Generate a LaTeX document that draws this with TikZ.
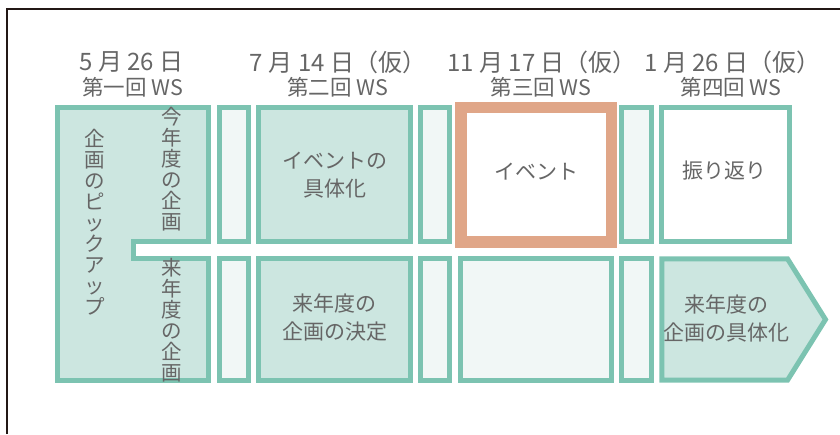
\documentclass[tikz,border=0pt]{standalone}
\usepackage{fontspec}
\setmainfont{Noto Sans CJK JP}
\definecolor{gstroke}{HTML}{7CC3B1}
\definecolor{gfill}{HTML}{CCE6E0}
\definecolor{pfill}{HTML}{F1F7F6}
\definecolor{ostroke}{HTML}{E0A688}
\definecolor{txt}{HTML}{666666}
\definecolor{frame}{HTML}{231815}
\tikzset{
  gbox/.style={draw=gstroke, line width=5pt, line join=miter},
  obox/.style={draw=ostroke, line width=11.5pt, fill=white},
  hdr/.style={text=txt, align=center, font=\fontsize{24}{27}\selectfont, inner sep=0pt},
  sub/.style={text=txt, align=center, font=\fontsize{21.5}{25}\selectfont, inner sep=0pt},
  lbl/.style={text=txt, align=center, font=\fontsize{21}{28}\selectfont, inner sep=0pt},
  vlbl/.style={text=txt, align=center, font=\fontsize{20.5}{21}\selectfont, inner sep=0pt},
}
\begin{document}
\begin{tikzpicture}[x=1pt,y=-1pt]
\useasboundingbox (0,0) rectangle (840,434);
% frame
\draw[frame, line width=2pt] (6.7,434) -- (6.7,9.3) -- (840,9.3);
% column 1 L-shape
\draw[gbox, fill=gfill] (57.5,107.5) -- (208.2,107.5) -- (208.2,241.5) -- (133.3,241.5) -- (133.3,258.8) -- (208.2,258.8) -- (208.2,380.2) -- (57.5,380.2) -- cycle;
% narrow 2
\draw[gbox, fill=pfill] (219.2,107.5) rectangle (248.2,241.5);
\draw[gbox, fill=pfill] (219.2,258.8) rectangle (248.2,380.2);
% box 3
\draw[gbox, fill=gfill] (258.5,107.5) rectangle (410.8,241.5);
\draw[gbox, fill=gfill] (258.5,258.8) rectangle (410.8,380.2);
% narrow 4
\draw[gbox, fill=pfill] (420.5,107.5) rectangle (449.8,241.5);
\draw[gbox, fill=pfill] (420.5,258.8) rectangle (449.8,380.2);
% box 5
\draw[obox] (460.8,107.5) rectangle (611.4,241.9);
\draw[gbox, fill=pfill] (460.2,258.8) rectangle (611.8,380.2);
% narrow 6
\draw[gbox, fill=pfill] (621.8,107.5) rectangle (651.8,241.5);
\draw[gbox, fill=pfill] (621.8,258.8) rectangle (651.8,380.2);
% box 7
\draw[gbox, fill=white] (661.8,107.5) rectangle (789.8,241.5);
\draw[gbox, fill=gfill] (661.8,258.8) -- (787.5,258.8) -- (825.5,319.5) -- (787.5,380.2) -- (661.8,380.2) -- cycle;
% headers
\node[hdr] (d1) at (131.5,62) {5 月 26 日};
\node[sub] (w1) at (132.5,87) {第一回 WS};
\node[hdr] (d2) at (338,62) {7 月 14 日（仮）};
\node[sub] (w2) at (337.7,87) {第二回 WS};
\node[hdr] (d3) at (542,62) {11 月 17 日（仮）};
\node[sub] (w3) at (541,87) {第三回 WS};
\node[hdr] (d4) at (732.5,62) {1 月 26 日（仮）};
\node[sub] (w4) at (731,87) {第四回 WS};
% vertical labels
\node[vlbl] (v1) at (95,222.5) {企\\画\\の\\ピ\\ッ\\ク\\ア\\ッ\\プ};
\node[vlbl] (v2) at (171.5,169) {今\\年\\度\\の\\企\\画};
\node[vlbl] (v3) at (171.5,320) {来\\年\\度\\の\\企\\画};
% box labels
\node[lbl] (t1) at (334.7,175.5) {イベントの\\具体化};
\node[lbl] (t2) at (334.7,318) {来年度の\\企画の決定};
\node[lbl] (t3) at (536,171.5) {イベント};
\node[lbl] (t4) at (724.5,171) {振り返り};
\node[lbl] (t5) at (726,318) {来年度の\\企画の具体化};
\end{tikzpicture}
\end{document}
